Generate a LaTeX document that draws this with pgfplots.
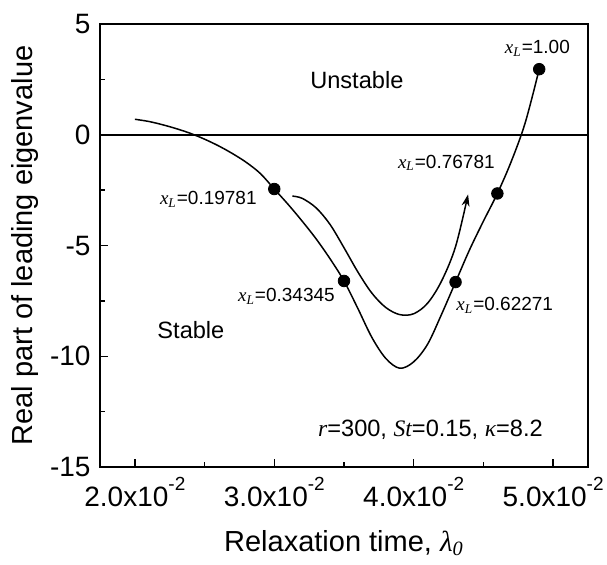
\documentclass[border=0pt]{standalone}
\usepackage{pgfplots}
\pgfplotsset{compat=1.18}
\usepackage{fontspec}
\setmainfont{Liberation Sans}
\newfontfamily\tms{Liberation Serif}
\usetikzlibrary{arrows.meta}
\newcommand{\sci}[1]{#1x10\raisebox{7.6pt}{\fontsize{9.5}{11}\selectfont -2}}
\begin{document}
\begin{tikzpicture}
\begin{axis}[
  scale only axis,
  width=244pt, height=221.5pt,
  xmin=0.0175, xmax=0.0525, ymin=-15, ymax=5,
  scaled x ticks=false,
  xtick={0.02,0.03,0.04,0.05},
  xticklabels={\sci{2.0},\sci{3.0},\sci{4.0},\sci{5.0}},
  minor xtick={0.025,0.035,0.045},
  ytick={-15,-10,-5,0,5},
  yticklabels={-15,-10,-5,0,5},
  minor ytick={-12.5,-7.5,-2.5,2.5},
  tick align=inside, xtick pos=bottom, ytick pos=left,
  major tick length=4pt, minor tick length=2.5pt,
  every tick/.style={black, line width=0.7pt},
  axis line style={black, line width=0.9pt},
  tick label style={font=\fontsize{14}{17}\selectfont},
  xticklabel style={anchor=base, yshift=-19.5pt},
  yticklabel style={anchor=east, xshift=-1.2pt},
  label style={font=\fontsize{14.5}{17}\selectfont},
  xlabel={Relaxation time, {\tms\itshape λ\textsubscript{0}}},
  ylabel={Real part of leading eigenvalue},
  xlabel style={at={(axis description cs:0.5,0)}, anchor=base, yshift=-42pt},
  ylabel style={at={(axis description cs:-0.1373,0.5)}, anchor=base},
  clip=false,
]
% zero line
\addplot[black, line width=0.8pt] coordinates {(0.0175,0) (0.0525,0)};
% main curve
\addplot[black, line width=0.75pt, smooth, tension=0.55] coordinates {
(0.0200,0.70) (0.0210,0.60) (0.0220,0.45) (0.0230,0.27) (0.0240,0.06)
(0.0250,-0.20) (0.0260,-0.50) (0.0270,-0.85) (0.0280,-1.25) (0.0290,-1.75)
(0.0300,-2.45) (0.0310,-3.15) (0.0320,-3.90) (0.0330,-4.70) (0.0340,-5.60)
(0.0350,-6.60) (0.0360,-7.85) (0.0370,-9.15) (0.0380,-10.10) (0.0390,-10.54)
(0.0400,-10.25) (0.0410,-9.45) (0.0420,-8.10) (0.0430,-6.65) (0.0440,-5.20)
(0.0450,-3.90) (0.0460,-2.65) (0.0470,-1.20) (0.0480,0.55) (0.0490,2.96)
};
% upper curve with arrow
\addplot[black, line width=0.75pt, smooth, tension=0.55, -{Stealth[length=6pt,width=4pt]}] coordinates {
(0.0313,-2.77) (0.0320,-2.87) (0.0330,-3.30) (0.0340,-4.05) (0.0350,-5.10)
(0.0360,-6.20) (0.0370,-7.15) (0.0380,-7.80) (0.0390,-8.12) (0.0400,-8.08)
(0.0410,-7.60) (0.0420,-6.60) (0.0430,-5.05) (0.0439,-2.69)
};
% dots
\addplot[only marks, mark=*, mark size=2.9pt, black] coordinates {
(0.0300,-2.45) (0.0350,-6.6) (0.0430,-6.65) (0.0460,-2.65) (0.0490,2.96)
};
% labels
\node[font=\fontsize{11.8}{13}\selectfont] at (axis cs:0.03592,2.47) {Unstable};
\node[font=\fontsize{11.8}{13}\selectfont] at (axis cs:0.02402,-8.82) {Stable};
\node[font=\fontsize{9.5}{11}\selectfont] at (axis cs:0.02527,-2.91) {{\tms\itshape x\textsubscript{L}}=0.19781};
\node[font=\fontsize{9.5}{11}\selectfont] at (axis cs:0.03087,-7.30) {{\tms\itshape x\textsubscript{L}}=0.34345};
\node[font=\fontsize{9.5}{11}\selectfont] at (axis cs:0.04653,-7.70) {{\tms\itshape x\textsubscript{L}}=0.62271};
\node[font=\fontsize{9.5}{11}\selectfont] at (axis cs:0.04234,-1.27) {{\tms\itshape x\textsubscript{L}}=0.76781};
\node[font=\fontsize{9.5}{11}\selectfont] at (axis cs:0.04887,3.89) {{\tms\itshape x\textsubscript{L}}=1.00};
\node[font=\fontsize{11.8}{13}\selectfont] at (axis cs:0.0412,-13.3) {{\tms\itshape r}=300, {\tms\itshape St}=0.15, {\tms\itshape κ}=8.2};
\end{axis}
\pgfresetboundingbox
\path[use as bounding box] ([xshift=-50pt,yshift=-48.5pt]current axis.south west) rectangle ([xshift=9.5pt,yshift=12pt]current axis.north east);
\end{tikzpicture}
\end{document}
